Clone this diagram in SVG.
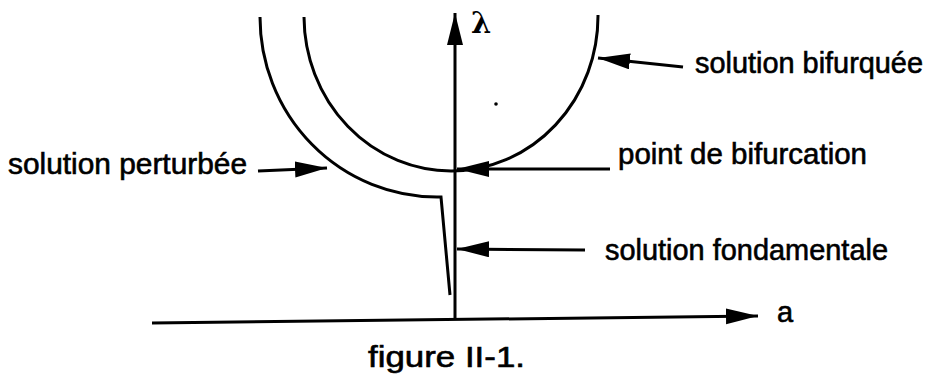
<svg xmlns="http://www.w3.org/2000/svg" width="928" height="379" viewBox="0 0 928 379">
<style>
.c{fill:none;stroke:#000;stroke-width:3;stroke-linecap:butt;stroke-linejoin:miter}
.a{fill:none;stroke:#000;stroke-width:3;marker-end:url(#ah)}
.t{font-family:"Liberation Sans",Arial,sans-serif;font-size:29px;fill:#000;stroke:#000;stroke-width:0.6}
</style>
<defs>
<marker id="ah" markerUnits="userSpaceOnUse" markerWidth="34" markerHeight="17" refX="32" refY="8" orient="auto">
<path d="M0,0 L32,8 L0,16 z" fill="#000"/>
</marker>
</defs>
<rect width="928" height="379" fill="#fff"/>
<g id="curves">
<path id="bifurquee" class="c" d="M304,17 A147,155 0 0 0 598,15"/>
<path id="perturbee" class="c" d="M260,17 A177,180 0 0 0 437,197 L441,197 L450,295"/>
<circle cx="496" cy="104" r="1.8" fill="#000"/>
</g>
<g id="connectors">
<path id="axis-a" class="a" d="M152,323 L758,316"/>
<path id="axis-lambda" class="a" d="M455,319 L455,13"/>
<path id="arr-bif" class="a" d="M683,67 L598,58"/>
<path id="arr-point" class="a" d="M610,169 L457,169"/>
<path id="arr-fond" class="a" d="M585,250 L457,249"/>
<path id="arr-pert" class="a" d="M258,171 L327,168"/>
</g>
<g id="label-lambda"><text x="471" y="33" font-family="'DejaVu Serif',serif" font-size="29" font-weight="bold">λ</text></g>
<g id="label-a"><text class="t" x="777" y="322" font-size="34">a</text></g>
<g id="label-bifurquee"><text class="t" x="695" y="73" textLength="228" lengthAdjust="spacingAndGlyphs">solution bifurquée</text></g>
<g id="label-point"><text class="t" x="618" y="164" textLength="249" lengthAdjust="spacingAndGlyphs">point de bifurcation</text></g>
<g id="label-fondamentale"><text class="t" x="605" y="260" textLength="283" lengthAdjust="spacingAndGlyphs">solution fondamentale</text></g>
<g id="label-perturbee"><text class="t" x="8" y="174" textLength="239" lengthAdjust="spacingAndGlyphs">solution perturbée</text></g>
<g id="caption"><text class="t" x="368" y="367" font-size="34" stroke-width="0.2" textLength="157" lengthAdjust="spacingAndGlyphs">figure II-1.</text></g>
</svg>
